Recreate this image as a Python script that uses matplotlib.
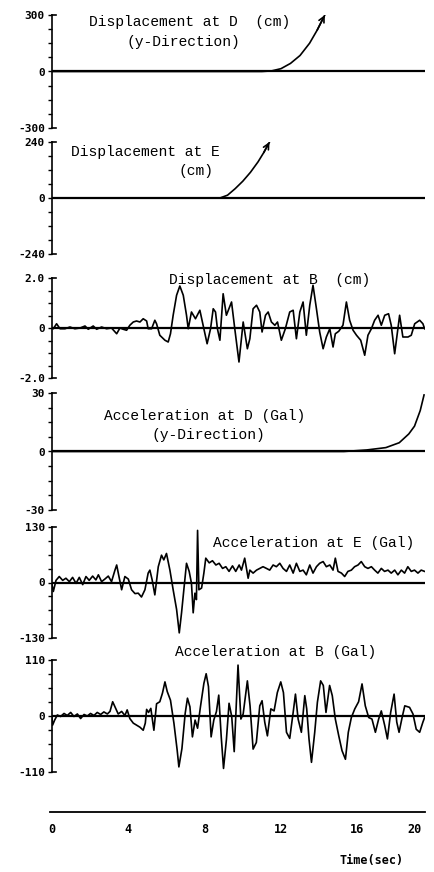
import matplotlib.pyplot as plt

# ---- data (time in sec) ----
disp_d_t = [0, 11.0, 11.5, 12.0, 12.5, 13.0, 13.5, 13.9, 14.3]
disp_d_v = [0, 0, 3, 15, 43, 85, 150, 220, 300]

disp_e_t = [0, 8.8, 9.2, 9.6, 10.0, 10.4, 10.8, 11.1, 11.4]
disp_e_v = [0, 0, 12, 40, 72, 110, 155, 195, 240]

disp_b_t = [0.00, 0.07, 0.24, 0.42, 0.68, 0.94, 1.20, 1.47, 1.73, 1.90,
            2.16, 2.34, 2.60, 2.86, 3.12, 3.39, 3.56, 3.73, 3.91, 4.08,
            4.26, 4.43, 4.61, 4.78, 4.96, 5.04, 5.22, 5.39, 5.48, 5.65,
            5.92, 6.09, 6.21, 6.35, 6.53, 6.70, 6.88, 7.05, 7.14, 7.31,
            7.52, 7.75, 7.96, 8.13, 8.31, 8.45, 8.57, 8.67, 8.80, 8.97,
            9.14, 9.41, 9.58, 9.80, 10.02, 10.24, 10.37, 10.54, 10.72, 10.89,
            11.01, 11.19, 11.33, 11.50, 11.68, 11.82, 12.02, 12.23, 12.46, 12.64,
            12.81, 12.99, 13.16, 13.33, 13.51, 13.68, 13.86, 14.03, 14.21, 14.38,
            14.56, 14.73, 14.85, 15.03, 15.25, 15.43, 15.60, 15.78, 15.96, 16.18,
            16.39, 16.56, 16.74, 16.91, 17.09, 17.26, 17.44, 17.64, 17.78, 17.96,
            18.22, 18.39, 18.66, 18.83, 19.01, 19.27, 19.44, 19.53]
disp_b_v = [0.00, -0.03, 0.17, -0.03, -0.03, 0.04, -0.03, 0.00, 0.08, -0.05,
            0.08, -0.05, 0.04, -0.03, 0.00, -0.23, 0.00, -0.05, -0.09, 0.11,
            0.24, 0.28, 0.24, 0.37, 0.28, -0.03, -0.03, 0.31, 0.17, -0.29,
            -0.49, -0.56, -0.23, 0.51, 1.31, 1.68, 1.31, 0.51, -0.03, 0.64,
            0.37, 0.71, -0.03, -0.63, -0.03, 0.77, 0.64, -0.03, -0.49, 1.37,
            0.51, 1.04, -0.03, -1.36, 0.24, -0.83, -0.43, 0.77, 0.91, 0.64,
            -0.16, 0.51, 0.64, 0.24, 0.11, 0.24, -0.49, -0.03, 0.64, 0.71,
            -0.43, 0.64, 1.04, -0.29, 0.91, 1.71, 0.77, -0.16, -0.83, -0.36,
            -0.03, -0.76, -0.23, -0.13, 0.11, 1.04, 0.31, -0.09, -0.29, -0.49,
            -1.09, -0.29, -0.03, 0.31, 0.51, 0.11, 0.51, 0.57, 0.11, -1.03,
            0.51, -0.36, -0.36, -0.29, 0.17, 0.31, 0.17, -0.03]

acc_d_t = [0, 15.3, 16.5, 17.5, 18.2, 18.7, 19.0, 19.3, 19.5]
acc_d_v = [0, 0, 0.8, 2, 4.5, 9, 13, 21, 29]

acc_e_t = [0.00, 0.07, 0.21, 0.38, 0.56, 0.73, 0.91, 1.08, 1.26, 1.43,
           1.61, 1.78, 1.95, 2.13, 2.30, 2.43, 2.60, 2.77, 2.95, 3.12,
           3.30, 3.39, 3.51, 3.65, 3.82, 4.00, 4.17, 4.35, 4.52, 4.69,
           4.87, 5.04, 5.13, 5.25, 5.39, 5.57, 5.74, 5.86, 6.00, 6.18,
           6.35, 6.53, 6.67, 6.79, 6.91, 7.05, 7.19, 7.31, 7.40, 7.49,
           7.57, 7.63, 7.70, 7.84, 7.96, 8.06, 8.24, 8.41, 8.59, 8.76,
           8.94, 9.11, 9.28, 9.46, 9.63, 9.81, 9.93, 10.10, 10.28, 10.37,
           10.54, 10.72, 10.89, 11.06, 11.24, 11.41, 11.59, 11.76, 11.94, 12.11,
           12.29, 12.46, 12.64, 12.81, 12.99, 13.16, 13.33, 13.51, 13.68, 13.86,
           14.03, 14.21, 14.38, 14.56, 14.73, 14.85, 14.99, 15.17, 15.34, 15.51,
           15.69, 15.86, 16.04, 16.21, 16.39, 16.56, 16.74, 16.91, 17.08, 17.26,
           17.43, 17.61, 17.78, 17.96, 18.13, 18.31, 18.48, 18.65, 18.83, 19.00,
           19.18, 19.35, 19.53]
acc_e_v = [-5, -21, 5, 14, 5, 10, 2, 12, -2, 12,
           -5, 14, 5, 15, 6, 18, 2, 8, 15, 2,
           29, 41, 14, -17, 14, 8, -17, -26, -25, -34,
           -17, 22, 29, 6, -29, 37, 64, 53, 68, 29,
           -17, -63, -118, -71, -17, 45, 26, -2, -71, -25,
           -40, 122, -17, -13, 22, 57, 46, 51, 41, 45,
           33, 37, 26, 39, 26, 41, 29, 57, 10, 29,
           22, 29, 33, 37, 33, 29, 41, 37, 45, 33,
           26, 41, 22, 45, 26, 29, 18, 41, 22, 37,
           45, 49, 37, 41, 29, 57, 26, 22, 14, 26,
           29, 37, 41, 49, 37, 33, 37, 29, 22, 33,
           26, 29, 22, 29, 18, 29, 22, 37, 26, 29,
           22, 29, 26]

acc_b_t = [0.00, 0.03, 0.14, 0.28, 0.45, 0.63, 0.80, 0.98, 1.15, 1.33,
           1.50, 1.68, 1.85, 2.02, 2.20, 2.37, 2.55, 2.72, 2.90, 3.04,
           3.18, 3.30, 3.47, 3.65, 3.82, 3.94, 4.08, 4.26, 4.43, 4.61,
           4.78, 4.89, 4.96, 5.06, 5.18, 5.34, 5.48, 5.65, 5.79, 5.92,
           6.04, 6.21, 6.39, 6.56, 6.65, 6.81, 6.98, 7.10, 7.23, 7.36,
           7.50, 7.63, 7.78, 7.96, 8.08, 8.20, 8.34, 8.48, 8.62, 8.74,
           8.87, 8.99, 9.14, 9.28, 9.42, 9.55, 9.75, 9.90, 10.02, 10.24,
           10.38, 10.54, 10.71, 10.89, 11.01, 11.15, 11.29, 11.47, 11.64, 11.81,
           11.99, 12.13, 12.29, 12.46, 12.64, 12.76, 12.90, 13.07, 13.25, 13.35,
           13.47, 13.60, 13.77, 13.91, 14.08, 14.22, 14.36, 14.55, 14.69, 14.85,
           15.03, 15.20, 15.38, 15.53, 15.69, 15.87, 16.07, 16.25, 16.42, 16.60,
           16.77, 16.95, 17.12, 17.26, 17.44, 17.58, 17.75, 17.93, 18.07, 18.19,
           18.35, 18.49, 18.74, 18.92, 19.09, 19.27, 19.44, 19.53]
acc_b_v = [-1, -18, -8, 2, -1, 5, 1, 7, -1, 4,
           -5, 3, 0, 5, 1, 7, 3, 8, 4, 9,
           28, 18, 4, 9, 1, 12, -5, -14, -18, -22,
           -28, -14, 13, 7, 15, -28, 24, 28, 45, 67,
           48, 31, -14, -67, -100, -64, 5, 35, 18, -41,
           -8, -24, 18, 64, 83, 58, -41, -8, 9, 41,
           -41, -103, -47, 25, -1, -70, 100, -6, 4, 69,
           20, -65, -52, 20, 30, -12, -39, 14, 10, 46,
           67, 46, -32, -44, 7, 43, -6, -32, 40, 14,
           -45, -91, -32, 27, 69, 60, 7, 60, 40, -6,
           -39, -68, -85, -32, -3, 14, 28, 63, 20, -3,
           -6, -32, -6, 10, -19, -45, 7, 43, -12, -32,
           -3, 20, 17, 4, -26, -32, -12, -3]

time_ticks = [0, 4, 8, 12, 16, 20]

# ---- layout (pixels of the 434x872 page) ----
W, H = 434, 872
X0, X1 = 52, 425
TMAX = 19.55

fig = plt.figure(figsize=(W / 100, H / 100), dpi=100)

mono = 'DejaVu Sans Mono'
serif_mono = 'Liberation Mono'


def make_panel(top, bottom, lim, labels, t, v, arrow=False):
    ax = fig.add_axes([X0 / W, 1 - bottom / H, (X1 - X0) / W, (bottom - top) / H])
    ax.set_xlim(0, TMAX)
    ax.set_ylim(-lim, lim)
    for s in ['top', 'right', 'bottom']:
        ax.spines[s].set_visible(False)
    ax.spines['left'].set_linewidth(1.2)
    ax.set_xticks([])
    ax.set_yticks([-lim, 0, lim])
    ax.set_yticklabels(labels, family=mono, fontweight='bold', fontsize=8)
    ax.set_yticks([-lim + k * lim / 4 for k in range(9)], minor=True)
    ax.tick_params(axis='y', which='both', direction='out', length=3, width=1, pad=2)
    # bracket hooks at the ends of the axis
    for yy in [0, 1]:
        ax.plot([0, 0.012], [yy, yy], transform=ax.transAxes, color='black',
                lw=1.2, clip_on=False)
    ax.axhline(0, color='black', lw=1.6)
    ax.plot(t, v, color='black', lw=1.2)
    if arrow:
        ax.annotate('', xy=(t[-1], v[-1]), xytext=(t[-2], v[-2]),
                    arrowprops=dict(arrowstyle='->', lw=1.2, color='black',
                                    mutation_scale=10, shrinkA=0, shrinkB=0))
    return ax


def title(cx, cy, s):
    fig.text(cx / W, 1 - cy / H, s, ha='center', va='center',
             family=serif_mono, fontsize=10.5)


make_panel(15, 128, 300, ['-300', '0', '300'], disp_d_t, disp_d_v, arrow=True)
title(190, 22, 'Displacement at D  (cm)')
title(183, 42, '(y-Direction)')

make_panel(142, 254, 240, ['-240', '0', '240'], disp_e_t, disp_e_v, arrow=True)
title(145, 152, 'Displacement at E')
title(196, 171, '(cm)')

make_panel(278, 378, 2.0, ['-2.0', '0', '2.0'], disp_b_t, disp_b_v)
title(270, 280, 'Displacement at B  (cm)')

make_panel(393, 510, 30, ['-30', '0', '30'], acc_d_t, acc_d_v)
title(205, 416, 'Acceleration at D (Gal)')
title(208, 435, '(y-Direction)')

make_panel(527, 638, 130, ['-130', '0', '130'], acc_e_t, acc_e_v)
title(314, 543, 'Acceleration at E (Gal)')

make_panel(660, 772, 110, ['-110', '0', '110'], acc_b_t, acc_b_v)
title(276, 652, 'Acceleration at B (Gal)')

# time axis at the bottom
axt = fig.add_axes([50 / W, 1 - 812 / H, (X1 - 50) / W, 0.001])
axt.set_xlim(-2 / 19.1, TMAX)
for s in ['top', 'right', 'left']:
    axt.spines[s].set_visible(False)
axt.spines['bottom'].set_linewidth(1.3)
axt.set_yticks([])
axt.set_xticks([min(v, 19.0) for v in time_ticks])
axt.set_xticklabels([str(v) for v in time_ticks], family=mono,
                    fontweight='bold', fontsize=8.5)
axt.tick_params(axis='x', length=0, pad=8)

fig.text(372 / W, 1 - 860 / H, 'Time(sec)', ha='center', va='center',
         family=mono, fontweight='bold', fontsize=8.5)

fig.savefig('out.png', dpi=100)
